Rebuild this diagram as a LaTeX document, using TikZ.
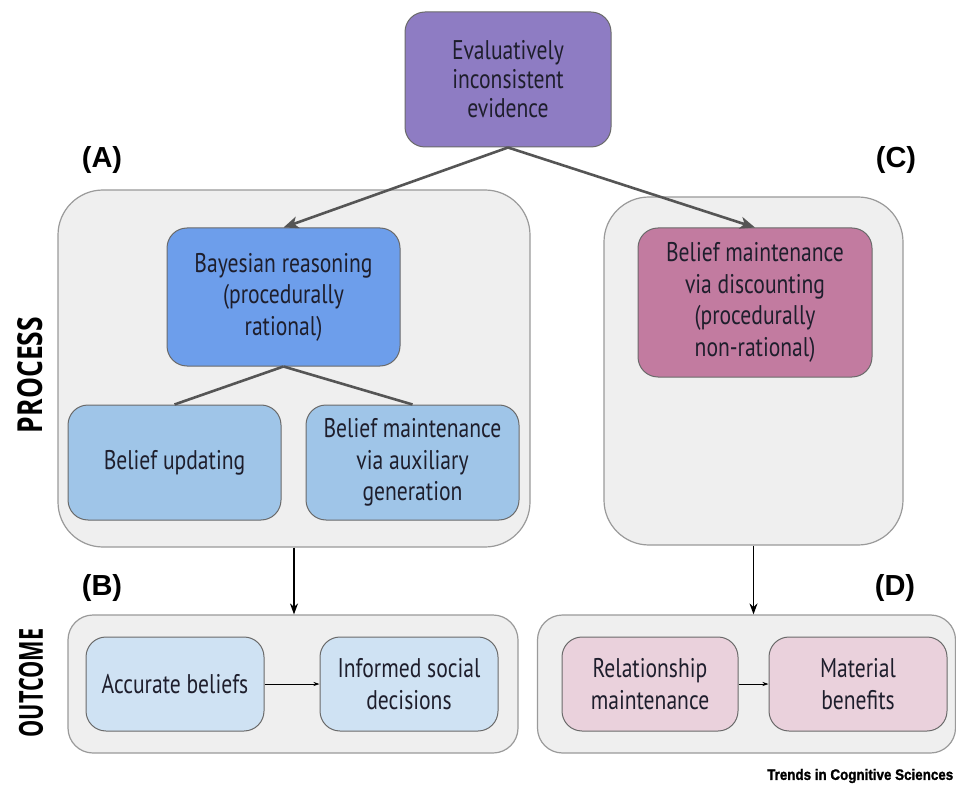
\documentclass[tikz,border=0pt]{standalone}
\usepackage{fontspec}
\usepackage{graphicx}
\setmainfont{PT Sans}[FakeStretch=0.8]
\newfontfamily\labfont{Liberation Sans}
\newfontfamily\sidefont{Open Sans}
\newfontfamily\trendsfont{Liberation Sans}[FakeBold=1.5]
\usetikzlibrary{arrows.meta}
\definecolor{panelfill}{HTML}{EFEFEF}
\definecolor{paneldraw}{HTML}{9A9A9A}
\definecolor{boxdraw}{HTML}{6A6A6A}
\definecolor{cpurple}{HTML}{8E7CC3}
\definecolor{cblue}{HTML}{6D9EEB}
\definecolor{cbluemid}{HTML}{9FC5E8}
\definecolor{cbluelight}{HTML}{CFE2F3}
\definecolor{cpink}{HTML}{C27BA0}
\definecolor{cpinklight}{HTML}{EAD1DC}
\definecolor{txt}{HTML}{1E1E2C}
\definecolor{arrowgray}{HTML}{555555}
\tikzset{
  panel/.style={draw=paneldraw, fill=panelfill, line width=1.2pt, inner sep=0pt},
  box/.style={draw=boxdraw, line width=1pt, rounded corners=20pt, inner sep=0pt,
    align=center, text=txt, font=\fontsize{27}{31.5}\selectfont},
  lab/.style={font=\labfont\bfseries\fontsize{29}{30}\selectfont, text=black},
  bigarrow/.style={draw=arrowgray, line width=2.6pt, -{Stealth[length=15pt,width=12pt,inset=4pt]}},
  treeline/.style={draw=arrowgray, line width=2.6pt},
  downarrow/.style={draw=black, line width=1.5pt, -{Stealth[length=11pt,width=8pt]}},
  smallarrow/.style={draw=black, line width=1pt, -{Stealth[length=6pt,width=4pt]}},
}
\begin{document}
\begin{tikzpicture}[x=1pt,y=-1pt]
\clip (0,0) rectangle (956,786);
\fill[white] (0,0) rectangle (956,786);
% panels
\node[panel, rounded corners=45pt, minimum width=472pt, minimum height=357pt] (pA) at (294,368.5) {};
\node[panel, rounded corners=45pt, minimum width=299pt, minimum height=348pt] (pC) at (753.5,371) {};
\node[panel, rounded corners=25pt, minimum width=450pt, minimum height=138pt] (pB) at (293,684) {};
\node[panel, rounded corners=25pt, minimum width=418pt, minimum height=138pt] (pD) at (746.5,684) {};
% boxes
\node[box, fill=cpurple, minimum width=206pt, minimum height=135pt, font=\fontsize{27}{29}\selectfont] (top) at (508,79.5) {Evaluatively\\inconsistent\\evidence};
\node[box, fill=cblue, minimum width=233pt, minimum height=138pt] (bay) at (283.5,297) {Bayesian reasoning\\(procedurally\\rational)};
\node[box, fill=cbluemid, minimum width=213pt, minimum height=115pt] (bu) at (174.5,462.5) {Belief updating};
\node[box, fill=cbluemid, minimum width=213pt, minimum height=115pt] (bm) at (412.5,462.5) {Belief maintenance\\via auxiliary\\generation};
\node[box, fill=cpink, minimum width=234pt, minimum height=149pt] (pc) at (755,302.5) {Belief maintenance\\via discounting\\(procedurally\\non-rational)};
\node[box, fill=cbluelight, minimum width=178pt, minimum height=94pt] (ab) at (175,684) {Accurate beliefs};
\node[box, fill=cbluelight, minimum width=178pt, minimum height=94pt] (isd) at (409,684) {Informed social\\decisions};
\node[box, fill=cpinklight, minimum width=176pt, minimum height=94pt] (rm) at (650,684) {Relationship\\maintenance};
\node[box, fill=cpinklight, minimum width=178pt, minimum height=94pt] (mb) at (858,684) {Material\\benefits};
% labels
\node[lab] (lA) at (102,160) {(A)};
\node[lab] (lC) at (896,160) {(C)};
\node[lab] (lB) at (102,588) {(B)};
\node[lab] (lD) at (895,588) {(D)};
\node[rotate=90] (proc) at (30,375) {\resizebox{116pt}{25pt}{\sidefont\bfseries PROCESS}};
\node[rotate=90] (outc) at (31,683) {\resizebox{109pt}{24pt}{\sidefont\bfseries OUTCOME}};
\node[anchor=west, inner sep=0pt] (trends) at (767,776) {\resizebox{186pt}{11pt}{\trendsfont\bfseries Trends in Cognitive Sciences}};
% connectors
\draw[bigarrow] (top.south) -- (bay.north);
\draw[bigarrow] (top.south) -- (pc.north);
\draw[treeline] (bay.south) -- (bu.north);
\draw[treeline] (bay.south) -- (bm.north);
\draw[downarrow] (pA.south) -- (pA.south |- pB.north);
\draw[downarrow] (pC.south) -- (pC.south |- pD.north);
\draw[smallarrow] (ab.east) -- (isd.west);
\draw[smallarrow] (rm.east) -- (mb.west);
\end{tikzpicture}
\end{document}
